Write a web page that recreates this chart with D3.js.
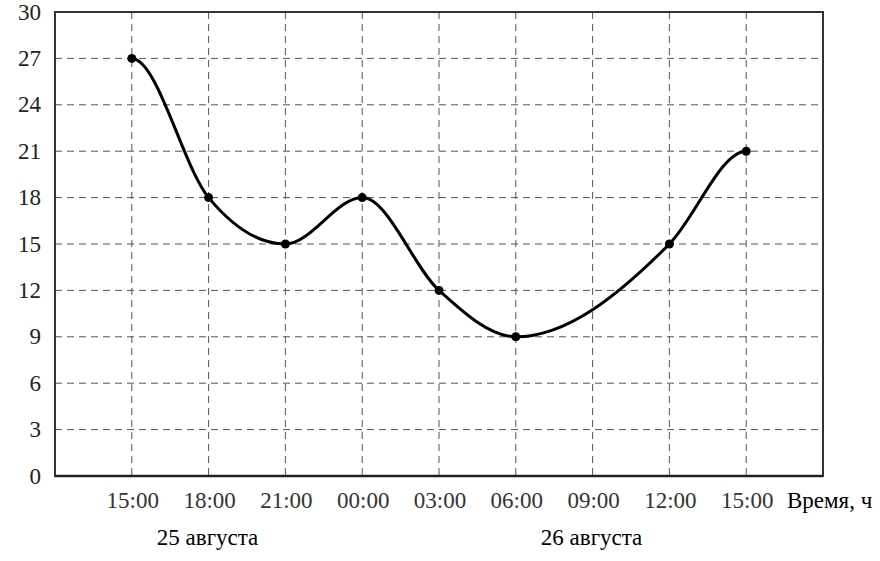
<!DOCTYPE html>
<html>
<head>
<meta charset="utf-8">
<script src="https://cdn.jsdelivr.net/npm/d3@7"></script>
<style>
  body { margin: 0; background: #fff; }
</style>
</head>
<body>
<div id="chart"></div>
<script>
// x ticks (time of day), index = position on the axis
var timeLabels = ["15:00", "18:00", "21:00", "00:00", "03:00", "06:00", "09:00", "12:00", "15:00"];
var yTicks = [0, 3, 6, 9, 12, 15, 18, 21, 24, 27, 30];
// measured points: [tick index, temperature]
var pointIdx = [0, 1, 2, 3, 4, 5, 7, 8];
var temps = [27, 18, 15, 18, 12, 9, 15, 21];
var dayLabels = [{ text: "25 августа", at: 1 }, { text: "26 августа", at: 6 }];

var W = 880, H = 561;
var mLeft = 55, mRight = 823, mTop = 12, mBottom = 476;
var FONT = "'Liberation Serif', Tinos, 'Times New Roman', 'DejaVu Serif', serif";

var svg = d3.select("#chart").append("svg")
    .attr("width", W)
    .attr("height", H)
    .attr("font-family", FONT);

var x = d3.scaleLinear().domain([-1, 9]).range([mLeft, mRight]);
var y = d3.scaleLinear().domain([0, 30]).range([mBottom, mTop]);

// grid
var grid = svg.append("g");
grid.selectAll("line.h").data(yTicks.filter(function(d) { return d > 0 && d < 30; }))
  .enter().append("line")
    .attr("x1", mLeft).attr("x2", mRight)
    .attr("y1", function(d) { return y(d); })
    .attr("y2", function(d) { return y(d); })
    .attr("stroke", "#555")
    .attr("stroke-width", 1)
    .attr("stroke-dasharray", "7,5");
grid.selectAll("line.v").data(timeLabels)
  .enter().append("line")
    .attr("x1", function(d, i) { return x(i); })
    .attr("x2", function(d, i) { return x(i); })
    .attr("y1", mTop).attr("y2", mBottom)
    .attr("stroke", "#555")
    .attr("stroke-width", 1)
    .attr("stroke-dasharray", "7,5");

// frame
svg.append("rect")
    .attr("x", mLeft).attr("y", mTop)
    .attr("width", mRight - mLeft).attr("height", mBottom - mTop)
    .attr("fill", "none")
    .attr("stroke", "#333")
    .attr("stroke-width", 2);
svg.append("line")
    .attr("x1", mLeft).attr("x2", mRight)
    .attr("y1", mBottom).attr("y2", mBottom)
    .attr("stroke", "#222")
    .attr("stroke-width", 2.5);

// y labels
svg.append("g").selectAll("text").data(yTicks)
  .enter().append("text")
    .attr("x", 41)
    .attr("y", function(d) { return y(d); })
    .attr("dy", "0.33em")
    .attr("text-anchor", "end")
    .attr("fill", "#222")
    .style("font-size", "23px")
    .text(function(d) { return d; });

// x labels
svg.append("g").selectAll("text").data(timeLabels)
  .enter().append("text")
    .attr("x", function(d, i) { return x(i) + 1; })
    .attr("y", 508)
    .attr("text-anchor", "middle")
    .attr("fill", "#333")
    .style("font-size", "23px")
    .text(function(d) { return d; });

svg.append("text")
    .attr("x", 787).attr("y", 508)
    .attr("fill", "#000")
    .style("font-size", "23px")
    .text("Время, ч");

svg.append("g").selectAll("text").data(dayLabels)
  .enter().append("text")
    .attr("x", function(d) { return x(d.at) - 1; })
    .attr("y", 545)
    .attr("text-anchor", "middle")
    .attr("fill", "#000")
    .style("font-size", "23px")
    .text(function(d) { return d.text; });

// curve: monotone hermite spline, flat at both ends
var pts = pointIdx.map(function(d, i) { return [d, temps[i]]; });

function smoothPath(p) {
  var n = p.length, t = new Array(n);
  t[0] = 0; t[n - 1] = 0;
  for (var i = 1; i < n - 1; i++) {
    var h0 = p[i][0] - p[i - 1][0], h1 = p[i + 1][0] - p[i][0];
    var s0 = (p[i][1] - p[i - 1][1]) / h0, s1 = (p[i + 1][1] - p[i][1]) / h1;
    var q = (s0 * h1 + s1 * h0) / (h0 + h1);
    t[i] = (Math.sign(s0) + Math.sign(s1)) * Math.min(Math.abs(s0), Math.abs(s1), 0.5 * Math.abs(q));
  }
  var path = d3.path();
  path.moveTo(x(p[0][0]), y(p[0][1]));
  for (var j = 0; j < n - 1; j++) {
    var dx = (p[j + 1][0] - p[j][0]) / 3;
    path.bezierCurveTo(
      x(p[j][0] + dx), y(p[j][1] + t[j] * dx),
      x(p[j + 1][0] - dx), y(p[j + 1][1] - t[j + 1] * dx),
      x(p[j + 1][0]), y(p[j + 1][1]));
  }
  return path.toString();
}

svg.append("path")
    .attr("d", smoothPath(pts))
    .attr("fill", "none")
    .attr("stroke", "#000")
    .attr("stroke-width", 3);

svg.append("g").selectAll("circle").data(pts)
  .enter().append("circle")
    .attr("cx", function(d) { return x(d[0]); })
    .attr("cy", function(d) { return y(d[1]); })
    .attr("r", 4.5)
    .attr("fill", "#000");
</script>
</body>
</html>
